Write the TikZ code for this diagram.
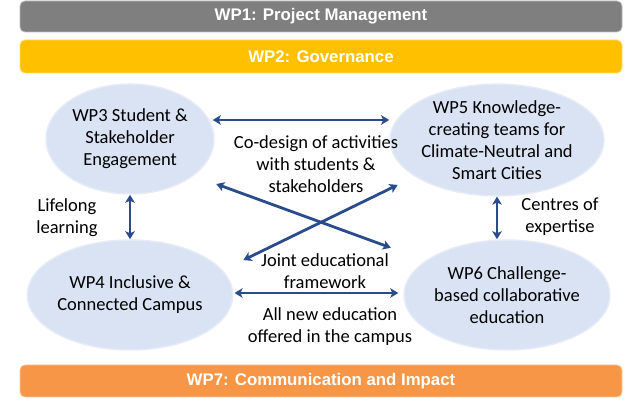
\documentclass[tikz,border=0pt]{standalone}
\usepackage{fontspec}
\setmainfont{Carlito}
\newfontfamily\barfont{Liberation Sans}
\usetikzlibrary{arrows.meta,positioning,shapes.geometric}
\definecolor{Ink}{HTML}{000000}
\definecolor{BarGray}{HTML}{7F7F7F}
\definecolor{BarGold}{HTML}{FFC000}
\definecolor{BarOrange}{HTML}{F79646}
\definecolor{OvalFill}{HTML}{DAE3F3}
\definecolor{OvalLine}{HTML}{E6ECF7}
\definecolor{LinkBlue}{HTML}{2B4C8C}
\tikzset{
  wpbar/.style={rounded corners=5pt,minimum width=602pt,inner sep=0pt,line width=.8pt,text=white,font=\barfont\bfseries\fontsize{16.8}{19}\selectfont},
  wpoval/.style={ellipse,draw=OvalLine,line width=1.5pt,fill=OvalFill,minimum width=168pt,minimum height=110pt,inner sep=0pt,align=center,text=Ink},
  linklabel/.style={align=center,text=Ink},
  link/.style={{Stealth[length=8pt,width=9.5pt,inset=2pt]}-{Stealth[length=8pt,width=9.5pt,inset=2pt]},line width=2.8pt,draw=LinkBlue}
}
\begin{document}
\begin{tikzpicture}[x=1pt,y=1pt,font=\fontsize{18.5}{22}\selectfont]
  \useasboundingbox (0,0) rectangle (642,403);
  \foreach \name/\yy/\hh/\col/\ttl in {wp1/386.5/31/BarGray/{WP1: Project Management},wp2/346.5/33/BarGold/{WP2: Governance},wp7/22/32/BarOrange/{WP7: Communication and Impact}}
    \node[wpbar,fill=\col,draw=\col!55!white,minimum height=\hh pt] (\name) at (321,\yy) {\ttl};

  \node[wpoval] (wp3) at (130,264) {WP3 Student \&\\Stakeholder\\Engagement};
  \node[wpoval] (wp5) at (497,263) {WP5 Knowledge-\\creating teams for\\Climate-Neutral and\\Smart Cities};
  \node[wpoval] (wp4) at (130,108) {WP4 Inclusive \&\\Connected Campus};
  \node[wpoval] (wp6) at (507,108) {WP6 Challenge-\\based collaborative\\education};

  \node[linklabel] (codesign) at (316,239) {Co-design of activities\\with students \&\\stakeholders};
  \node[linklabel] (lifelong) at (67,185.5) {Lifelong\\learning};
  \node[linklabel] (centres) at (560,186.5) {Centres of\\expertise};
  \node[linklabel] (joint) at (325,132) {Joint educational\\framework};
  \node[linklabel] (allnew) at (330,76.5) {All new education\\offered in the campus};

  \draw[link,shorten <=-2pt] ([yshift=19pt]wp3.east) -- ([yshift=19pt]wp3.east -| wp5.west);
  \draw[link] (wp3.south) -- (wp4.north);
  \draw[link] (wp5.south) -- (wp5.south |- wp6.north);
  \draw[link,shorten <=1pt,shorten >=5pt] ([yshift=2pt]wp4.east) -- ([yshift=2pt]wp4.east -| wp6.west);
  \draw[link,shorten <=24pt,shorten >=37pt] (wp3.-30.6) -- (wp6.157.3);
  \draw[link,shorten <=23pt,shorten >=19pt] (wp4.15.8) -- (wp5.204.9);
\end{tikzpicture}
\end{document}
